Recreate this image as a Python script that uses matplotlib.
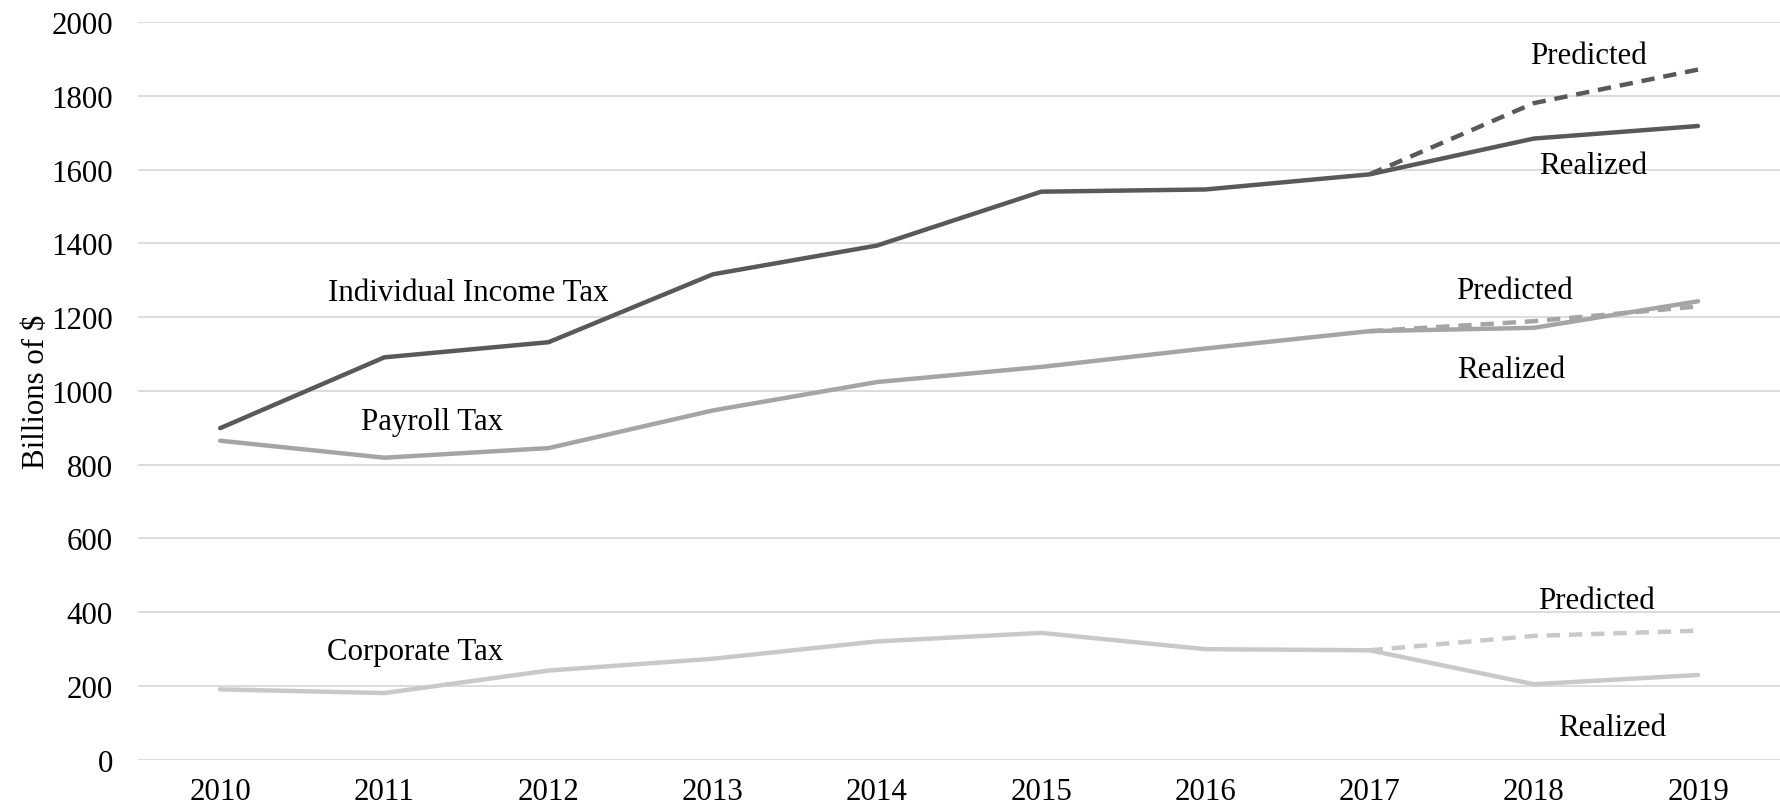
import numpy as np
import matplotlib.pyplot as plt

plt.rcParams['font.family'] = ['Liberation Serif', 'DejaVu Serif']

# Federal receipts, billions of dollars
years = ['2010', '2011', '2012', '2013', '2014', '2015', '2016', '2017', '2018', '2019']
individual = [899, 1091, 1132, 1316, 1394, 1540, 1546, 1587, 1684, 1718]
payroll = [865, 819, 845, 947, 1024, 1065, 1115, 1162, 1171, 1243]
corporate = [191, 181, 242, 274, 321, 344, 300, 297, 205, 230]

# Projections from 2017 onward
pred_years = ['2017', '2018', '2019']
individual_pred = [1587, 1780, 1871]
payroll_pred = [1162, 1189, 1229]
corporate_pred = [297, 336, 350]

clr_ind = '#595959'
clr_pay = '#a5a5a5'
clr_corp = '#c9c9c9'
clr_grid = '#d9d9d9'

x = np.arange(len(years))
xp = np.array([years.index(y) for y in pred_years])

fig = plt.figure(figsize=(17.81, 8.12), dpi=100)
ax = fig.add_axes([0.0775, 0.063, 0.922, 0.9087])

lw = 3.2
ax.plot(x, corporate, '-', color=clr_corp, lw=lw, solid_capstyle='round')
ax.plot(xp, corporate_pred, '--', color=clr_corp, lw=lw, dashes=(3, 2))
ax.plot(x, payroll, '-', color=clr_pay, lw=lw, solid_capstyle='round')
ax.plot(xp, payroll_pred, '--', color=clr_pay, lw=lw, dashes=(3, 2))
ax.plot(x, individual, '-', color=clr_ind, lw=lw, solid_capstyle='round')
ax.plot(xp, individual_pred, '--', color=clr_ind, lw=lw, dashes=(3, 2))

fs = 22.2
ax.text(1.51, 1266, 'Individual Income Tax', fontsize=fs, ha='center', va='center')
ax.text(1.29, 918, 'Payroll Tax', fontsize=fs, ha='center', va='center')
ax.text(1.19, 293, 'Corporate Tax', fontsize=fs, ha='center', va='center')
ax.text(8.33, 1910, 'Predicted', fontsize=fs, ha='center', va='center')
ax.text(8.36, 1611, 'Realized', fontsize=fs, ha='center', va='center')
ax.text(7.88, 1272, 'Predicted', fontsize=fs, ha='center', va='center')
ax.text(7.86, 1057, 'Realized', fontsize=fs, ha='center', va='center')
ax.text(8.38, 432, 'Predicted', fontsize=fs, ha='center', va='center')
ax.text(8.48, 87, 'Realized', fontsize=fs, ha='center', va='center')

ax.set_xlim(-0.5, len(years) - 0.5)
ax.set_ylim(0, 2000)
ax.set_xticks(x)
ax.set_xticklabels(years)
ax.set_yticks(np.arange(0, 2001, 200))
ax.tick_params(axis='both', length=0, labelsize=fs)
ax.tick_params(axis='x', pad=12)
ax.tick_params(axis='y', pad=18)
fig.text(37 / 1781, 0.517, 'Billions of $', fontsize=fs, rotation=90,
         ha='center', va='center')

ax.grid(axis='y', color=clr_grid, lw=1.3)
ax.set_axisbelow(True)
for s in ax.spines.values():
    s.set_visible(False)

fig.savefig('out.png', dpi=100)
